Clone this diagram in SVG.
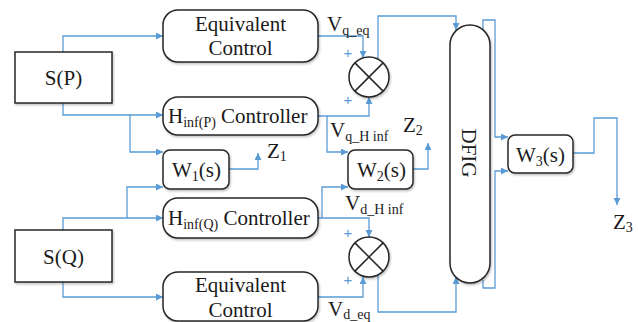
<svg xmlns="http://www.w3.org/2000/svg" width="638" height="322" viewBox="0 0 638 322">
<style>
.box{fill:#fff;stroke:#262626;stroke-width:1.5;filter:url(#sh)}
.t{font-family:"Liberation Serif","Times New Roman",serif;font-size:21px;fill:#1a1a1a}
.s{font-size:14px}
.c{stroke:#5B9BD5;stroke-width:1.3;fill:none;marker-end:url(#ar)}
.p{font-family:"Liberation Sans",Arial,sans-serif;font-size:15px;fill:#5B9BD5;text-anchor:middle}
.x{stroke:#262626;stroke-width:1.5}
</style>
<defs>
<filter id="sh" x="-10%" y="-10%" width="130%" height="130%">
<feDropShadow dx="1" dy="1.5" stdDeviation="1" flood-color="#000" flood-opacity="0.25"/>
</filter>
<marker id="ar" markerUnits="userSpaceOnUse" markerWidth="8" markerHeight="7" refX="7" refY="3.5" orient="auto">
<path d="M0,0 L7,3.5 L0,7 z" fill="#5B9BD5"/>
</marker>
</defs>
<rect width="638" height="322" fill="#fff"/>

<g id="connectors">
<path class="c" d="M63,52 V36 H163"/>
<path class="c" d="M63,103 V115 H163"/>
<path class="c" d="M130,115 V152 H163"/>
<path class="c" d="M63,230 V218 H163"/>
<path class="c" d="M127,218 V187 H163"/>
<path class="c" d="M63,282 V297 H163"/>
<path class="c" d="M229,169 H258 V153"/>
<path class="c" d="M318,36 H363 V58"/>
<path class="c" d="M318,116 H369 V97"/>
<path class="c" d="M327,116 V152 H348"/>
<path class="c" d="M378,59 V16 H456 V30"/>
<path class="c" d="M413,169 H428 V143"/>
<path class="c" d="M318,218 H369 V237"/>
<path class="c" d="M322,218 V187 H348"/>
<path class="c" d="M318,297 H363 V277"/>
<path class="c" d="M378,275 V312 H456 V277"/>
<path class="c" d="M483,30 V20 H495 V137 H508"/>
<path class="c" d="M483,280 V288 H495 V171 H508"/>
<path class="c" d="M573,153 H594 V118 H617 V205"/>
</g>

<g id="SP">
<rect class="box" x="15" y="52" width="97" height="51"/>
<text class="t" x="63.5" y="85" text-anchor="middle">S(P)</text>
</g>
<g id="SQ">
<rect class="box" x="15" y="230" width="97" height="52"/>
<text class="t" x="63.5" y="264" text-anchor="middle">S(Q)</text>
</g>
<g id="EqCtrlP">
<rect class="box" x="163" y="10" width="155" height="52" rx="15"/>
<text class="t" x="240.5" y="31" text-anchor="middle">Equivalent</text>
<text class="t" x="240.5" y="55" text-anchor="middle">Control</text>
</g>
<g id="HinfP">
<rect class="box" x="163" y="97" width="155" height="38" rx="15"/>
<text class="t" x="168" y="123">H<tspan class="s" dy="4">inf(P)</tspan><tspan dy="-4"> Controller</tspan></text>
</g>
<g id="W1">
<rect class="box" x="163" y="150" width="66" height="39" rx="7"/>
<text class="t" x="172" y="177">W<tspan class="s" dy="4">1</tspan><tspan dy="-4">(s)</tspan></text>
</g>
<g id="HinfQ">
<rect class="box" x="163" y="198" width="155" height="40" rx="15"/>
<text class="t" x="168" y="225">H<tspan class="s" dy="4">inf(Q)</tspan><tspan dy="-4"> Controller</tspan></text>
</g>
<g id="EqCtrlQ">
<rect class="box" x="163" y="272" width="155" height="49" rx="15"/>
<text class="t" x="240.5" y="292" text-anchor="middle">Equivalent</text>
<text class="t" x="240.5" y="317" text-anchor="middle">Control</text>
</g>
<g id="Sum1">
<circle class="box" cx="369" cy="77" r="20"/>
<line class="x" x1="354.9" y1="62.9" x2="383.1" y2="91.1"/>
<line class="x" x1="383.1" y1="62.9" x2="354.9" y2="91.1"/>
</g>
<g id="Sum2">
<circle class="box" cx="369" cy="257" r="20"/>
<line class="x" x1="354.9" y1="242.9" x2="383.1" y2="271.1"/>
<line class="x" x1="383.1" y1="242.9" x2="354.9" y2="271.1"/>
</g>
<g id="W2">
<rect class="box" x="348" y="150" width="65" height="39" rx="7"/>
<text class="t" x="357" y="177">W<tspan class="s" dy="4">2</tspan><tspan dy="-4">(s)</tspan></text>
</g>
<g id="DFIG">
<rect class="box" x="450" y="25" width="40" height="258" rx="20"/>
<text class="t" transform="translate(462,153) rotate(90)" text-anchor="middle">DFIG</text>
</g>
<g id="W3">
<rect class="box" x="508" y="135" width="65" height="38" rx="7"/>
<text class="t" x="516" y="162">W<tspan class="s" dy="4">3</tspan><tspan dy="-4">(s)</tspan></text>
</g>

<g id="labels">
<text class="t" x="327" y="31">V<tspan class="s" dy="4">q_eq</tspan></text>
<text class="t" x="330" y="137">V<tspan class="s" dy="4">q_H inf</tspan></text>
<text class="t" x="345" y="210">V<tspan class="s" dy="4">d_H inf</tspan></text>
<text class="t" x="328" y="316">V<tspan class="s" dy="3">d_eq</tspan></text>
<text class="t" x="267" y="158">Z<tspan class="s" dy="3">1</tspan></text>
<text class="t" x="403" y="132">Z<tspan class="s" dy="3">2</tspan></text>
<text class="t" x="613" y="229">Z<tspan class="s" dy="3">3</tspan></text>
<text class="p" x="348" y="58">+</text>
<text class="p" x="348" y="105">+</text>
<text class="p" x="348" y="238">+</text>
<text class="p" x="348" y="285">+</text>
</g>
</svg>
